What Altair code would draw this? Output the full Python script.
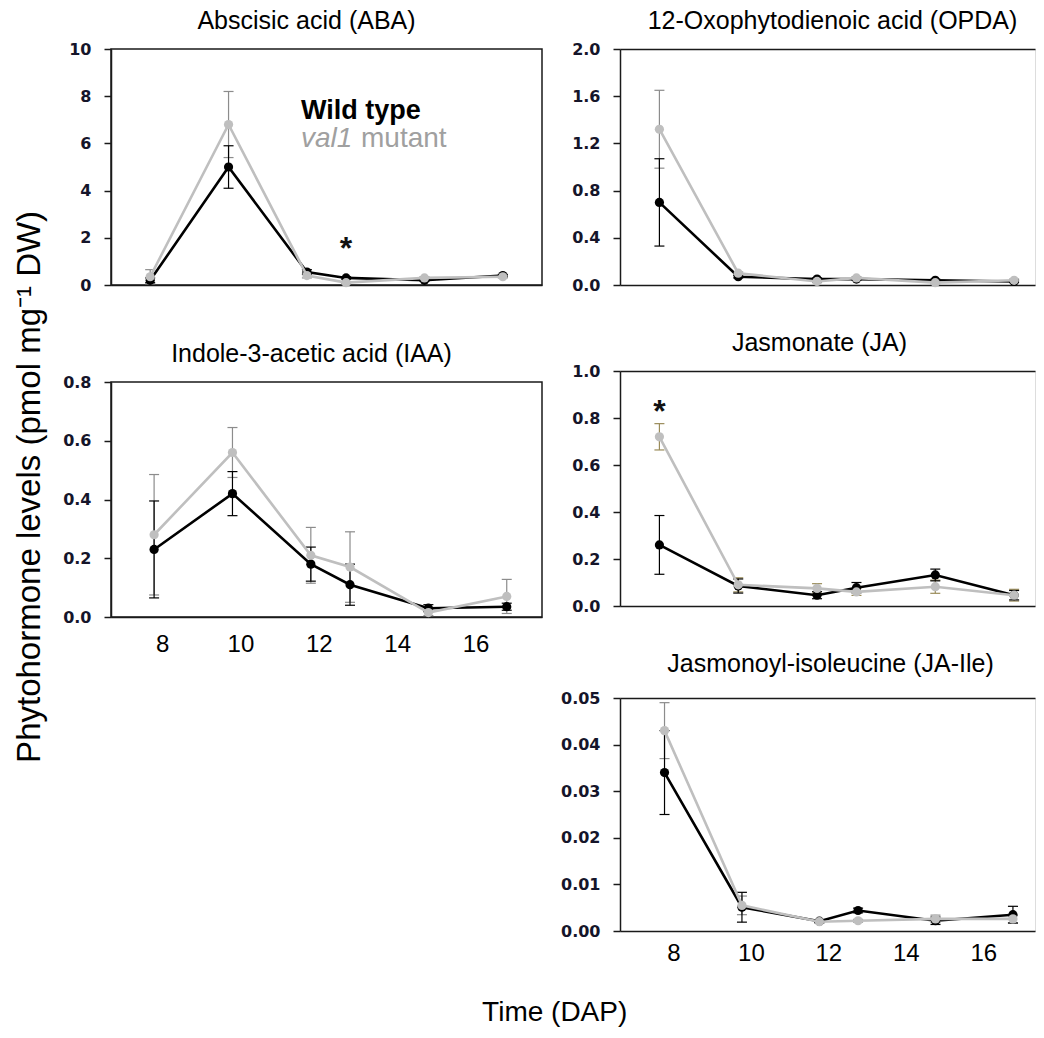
import altair as alt
import pandas as pd

# ---------------- data ----------------
days = [8, 10, 12, 13, 15, 17]
series_names = ["Wild type", "val1 mutant"]

aba_wt = [0.2, 5.0, 0.55, 0.3, 0.2, 0.4]
aba_wt_err = [0.1, 0.9, 0.1, 0.05, 0.05, 0.05]
aba_mut = [0.35, 6.8, 0.4, 0.1, 0.3, 0.35]
aba_mut_err = [0.3, 1.4, 0.1, 0.05, 0.05, 0.05]

opda_wt = [0.70, 0.07, 0.05, 0.05, 0.04, 0.03]
opda_wt_err = [0.37, 0.01, 0.01, 0.01, 0.01, 0.01]
opda_mut = [1.32, 0.10, 0.03, 0.06, 0.02, 0.04]
opda_mut_err = [0.33, 0.01, 0.01, 0.01, 0.01, 0.01]

iaa_wt = [0.23, 0.42, 0.18, 0.11, 0.03, 0.035]
iaa_wt_err = [0.165, 0.075, 0.058, 0.07, 0.012, 0.012]
iaa_mut = [0.28, 0.56, 0.21, 0.17, 0.015, 0.07]
iaa_mut_err = [0.205, 0.085, 0.095, 0.12, 0.01, 0.058]

ja_wt = [0.26, 0.085, 0.046, 0.078, 0.132, 0.046]
ja_wt_err = [0.125, 0.03, 0.015, 0.022, 0.025, 0.02]
ja_mut = [0.72, 0.09, 0.075, 0.06, 0.082, 0.046]
ja_mut_err = [0.056, 0.03, 0.02, 0.015, 0.028, 0.025]

jaile_wt = [0.034, 0.0051, 0.0021, 0.0044, 0.0022, 0.0035]
jaile_wt_err = [0.009, 0.0032, 0.0003, 0.0005, 0.0008, 0.0018]
jaile_mut = [0.043, 0.0055, 0.002, 0.0022, 0.0026, 0.0026]
jaile_mut_err = [0.006, 0.002, 0.0003, 0.0003, 0.0008, 0.0008]

x_tick_values = [8, 10, 12, 14, 16]

# significance marks: (day, y)
aba_star = [(13, 1.1)]
ja_star = [(8, 0.785)]

# ---------------- style ----------------
FONT = "Liberation Sans, Arial, sans-serif"
TICKFONT = "DejaVu Sans"
WT_COLOR = "#000000"
MUT_COLOR = "#bfbfbf"
FRAME = "#1a1a1a"


def series_df(vals, errs):
    return pd.DataFrame({
        "day": days,
        "value": vals,
        "lo": [v - e for v, e in zip(vals, errs)],
        "hi": [v + e for v, e in zip(vals, errs)],
    })


def panel(title, wt, wt_err, mut, mut_err, yvals, yfmt, width, height,
          xdomain, show_x, boxed, title_dx=0, title_offset=7, xlabel_pad=12,
          xlabel_offset=9, mut_err_color="#8c8c8c", extras=()):
    dwt = series_df(wt, wt_err)
    dmut = series_df(mut, mut_err)
    xscale = alt.Scale(domain=xdomain, nice=False, zero=False)
    yscale = alt.Scale(domain=[yvals[0], yvals[-1]], nice=False)
    x_none = alt.X("day:Q", scale=xscale, axis=None)
    x_bottom = alt.X("day:Q", scale=xscale, axis=alt.Axis(
        orient="bottom", values=x_tick_values, labels=show_x, ticks=False,
        domain=True, domainColor=FRAME, domainWidth=1.5, grid=False,
        title=None, labelFont=FONT, labelFontSize=24, labelColor="#000",
        labelPadding=xlabel_pad, labelOffset=xlabel_offset))
    x_top = alt.X("day:Q", scale=xscale, axis=alt.Axis(
        orient="top", labels=False, ticks=False, domain=True,
        domainColor=FRAME, domainWidth=1.5, grid=False, title=None))
    yax = alt.Axis(
        values=yvals, format=yfmt, grid=False, title=None,
        domainColor=FRAME, domainWidth=1.5, tickColor=FRAME, tickWidth=1.5,
        tickSize=7, labelFont=TICKFONT, labelFontWeight="bold",
        labelFontSize=16, labelColor="#15152a", labelPadding=13)

    def Y(field):
        return alt.Y(field, scale=yscale, axis=yax, title=None)

    def errbars(d, color):
        rule = alt.Chart(d).mark_rule(color=color, strokeWidth=1.2).encode(
            x=x_none, y=Y("lo:Q"), y2="hi:Q")
        caps = alt.Chart(d).transform_fold(["lo", "hi"], as_=["which", "cap"]).mark_tick(
            orient="horizontal", size=10, thickness=1.2, color=color, opacity=1
        ).encode(x=x_none, y=Y("cap:Q"))
        return [rule, caps]

    layers = []
    layers += errbars(dmut, mut_err_color)
    layers += errbars(dwt, "#000000")
    layers.append(alt.Chart(dwt).mark_line(color=WT_COLOR, strokeWidth=2.6).encode(
        x=x_bottom, y=Y("value:Q")))
    layers.append(alt.Chart(dwt).mark_circle(color=WT_COLOR, size=85, opacity=1).encode(
        x=x_none, y=Y("value:Q")))
    layers.append(alt.Chart(dmut).mark_line(color=MUT_COLOR, strokeWidth=2.6).encode(
        x=x_top if not boxed else x_none, y=Y("value:Q")))
    layers.append(alt.Chart(dmut).mark_circle(color=MUT_COLOR, size=85, opacity=1).encode(
        x=x_none, y=Y("value:Q")))
    for e in extras:
        layers.append(e(x_none, Y))

    props = dict(width=width, height=height,
                 title=alt.TitleParams(title, font=FONT, fontSize=25, fontWeight="normal",
                                       color="#000", anchor="middle", offset=title_offset,
                                       dx=title_dx))
    if boxed:
        props["view"] = alt.ViewBackground(stroke=FRAME, strokeWidth=1.5)
    ch = alt.layer(*layers).properties(**props)
    ch = ch.resolve_axis(x="independent")
    return ch


def star(points):
    def f(x_enc, Y):
        d = pd.DataFrame({"day": [p[0] for p in points], "value": [p[1] for p in points],
                          "t": ["*"] * len(points)})
        return alt.Chart(d).mark_text(font=FONT, fontSize=32, fontWeight="bold",
                                      color="#111", baseline="alphabetic").encode(
            x=x_enc, y=Y("value:Q"), text="t:N")
    return f


def legend_text(x_enc, Y):
    d1 = pd.DataFrame({"t": ["Wild type"]})
    d2 = pd.DataFrame({"t": ["val1"]})
    d3 = pd.DataFrame({"t": ["mutant"]})
    t1 = alt.Chart(d1).mark_text(font=FONT, fontSize=27, fontWeight="bold", color="#000",
                                 align="left", baseline="alphabetic").encode(
        text="t:N", x=alt.value(190), y=alt.value(70))
    t2 = alt.Chart(d2).mark_text(font=FONT, fontSize=28, fontStyle="italic", color="#a0a0a0",
                                 align="left", baseline="alphabetic").encode(
        text="t:N", x=alt.value(190), y=alt.value(98))
    t3 = alt.Chart(d3).mark_text(font=FONT, fontSize=28, color="#a0a0a0",
                                 align="left", baseline="alphabetic").encode(
        text="t:N", x=alt.value(250), y=alt.value(98))
    return alt.layer(t1, t2, t3)


aba = panel("Abscisic acid (ABA)", aba_wt, aba_wt_err, aba_mut, aba_mut_err,
            [0, 2, 4, 6, 8, 10], "d", 431, 236, [7, 18], False, True, title_dx=-20,
            extras=(star(aba_star), legend_text))
iaa = panel("Indole-3-acetic acid (IAA)", iaa_wt, iaa_wt_err, iaa_mut, iaa_mut_err,
            [0, 0.2, 0.4, 0.6, 0.8], ".1f", 431, 235, [6.9, 17.9], True, True, title_dx=-15,
            xlabel_pad=15, xlabel_offset=8)
opda = panel("12-Oxophytodienoic acid (OPDA)", opda_wt, opda_wt_err, opda_mut, opda_mut_err,
             [0, 0.4, 0.8, 1.2, 1.6, 2.0], ".1f", 415, 236, [7, 17.53], False, False,
             title_dx=5)
ja = panel("Jasmonate (JA)", ja_wt, ja_wt_err, ja_mut, ja_mut_err,
           [0, 0.2, 0.4, 0.6, 0.8, 1.0], ".1f", 415, 235, [7, 17.53], False, False,
           title_dx=-8, mut_err_color="#9a8c5a", extras=(star(ja_star),))
jaile = panel("Jasmonoyl-isoleucine (JA-Ile)", jaile_wt, jaile_wt_err, jaile_mut, jaile_mut_err,
              [0, 0.01, 0.02, 0.03, 0.04, 0.05], ".2f", 415, 233, [6.85, 17.57], True, False,
              title_dx=3, title_offset=13, xlabel_pad=10, xlabel_offset=9)

left = alt.concat(aba, iaa, columns=1, spacing=47, align="none")
right = alt.concat(opda, ja, jaile, columns=1, spacing=36, align="none")

inner = alt.hconcat(left, right, spacing=17).properties(
    title=alt.TitleParams("Phytohormone levels (pmol mg⁻¹ DW)", orient="left",
                          anchor="middle", font=FONT, fontSize=33, fontWeight="normal",
                          color="#000", offset=15))

chart = alt.vconcat(inner).properties(
    title=alt.TitleParams("Time (DAP)", orient="bottom", anchor="middle", font=FONT,
                          fontSize=28, fontWeight="normal", color="#000", offset=33, dx=30),
    padding={"left": 5, "top": 0, "right": 0, "bottom": 0},
).configure_view(stroke=None).configure(background="white")

chart.save("out.html", embed_options={"renderer": "svg", "actions": False})
